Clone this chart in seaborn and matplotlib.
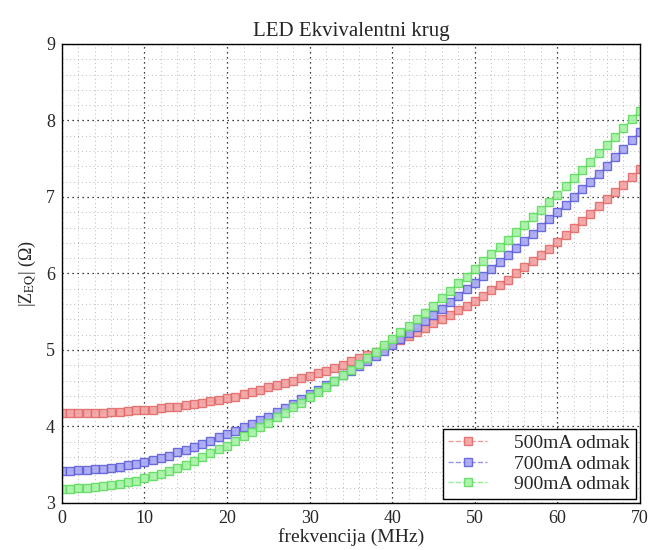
import numpy as np
import pandas as pd
import matplotlib
matplotlib.use("Agg")
import matplotlib.pyplot as plt
from matplotlib.ticker import MultipleLocator
import seaborn as sns

# Frequency sweep (MHz)
freq_mhz = list(range(0, 71))

# |Z_EQ| (Ohm) for each bias current
z_500ma = [4.17, 4.17, 4.17, 4.18, 4.18, 4.18, 4.19, 4.19, 4.20, 4.21,
           4.21, 4.22, 4.24, 4.25, 4.26, 4.28, 4.29, 4.31, 4.33, 4.35,
           4.37, 4.39, 4.42, 4.45, 4.48, 4.51, 4.54, 4.57, 4.60, 4.63,
           4.66, 4.70, 4.73, 4.77, 4.81, 4.85, 4.89, 4.94, 4.98, 5.03,
           5.08, 5.13, 5.18, 5.24, 5.29, 5.35, 5.41, 5.46, 5.52, 5.58,
           5.64, 5.71, 5.78, 5.85, 5.92, 6.00, 6.08, 6.16, 6.24, 6.32,
           6.41, 6.50, 6.59, 6.68, 6.78, 6.88, 6.97, 7.06, 7.16, 7.26,
           7.36]
z_700ma = [3.42, 3.42, 3.43, 3.43, 3.44, 3.45, 3.46, 3.47, 3.49, 3.51,
           3.53, 3.56, 3.59, 3.62, 3.66, 3.69, 3.73, 3.77, 3.81, 3.86,
           3.90, 3.94, 3.99, 4.03, 4.08, 4.13, 4.19, 4.24, 4.30, 4.36,
           4.42, 4.48, 4.54, 4.60, 4.67, 4.73, 4.79, 4.86, 4.92, 4.99,
           5.06, 5.14, 5.22, 5.30, 5.38, 5.46, 5.54, 5.63, 5.71, 5.80,
           5.88, 5.97, 6.06, 6.15, 6.24, 6.33, 6.42, 6.52, 6.61, 6.71,
           6.80, 6.90, 7.00, 7.10, 7.20, 7.30, 7.41, 7.52, 7.63, 7.74,
           7.85]
z_900ma = [3.18, 3.18, 3.19, 3.20, 3.21, 3.22, 3.23, 3.25, 3.27, 3.29,
           3.32, 3.35, 3.38, 3.42, 3.46, 3.50, 3.55, 3.60, 3.65, 3.70,
           3.75, 3.81, 3.87, 3.93, 3.99, 4.05, 4.12, 4.18, 4.25, 4.31,
           4.38, 4.45, 4.52, 4.59, 4.67, 4.74, 4.82, 4.90, 4.98, 5.06,
           5.14, 5.23, 5.31, 5.40, 5.49, 5.58, 5.68, 5.77, 5.87, 5.96,
           6.06, 6.16, 6.25, 6.35, 6.44, 6.54, 6.64, 6.74, 6.83, 6.93,
           7.03, 7.14, 7.25, 7.35, 7.46, 7.57, 7.68, 7.79, 7.90, 8.02,
           8.13]

series_labels = ["500mA odmak", "700mA odmak", "900mA odmak"]
x_ticks = [0, 10, 20, 30, 40, 50, 60, 70]
y_ticks = [3, 4, 5, 6, 7, 8, 9]

sns.set_theme(style="white")
plt.rcParams["font.family"] = ["Liberation Serif", "DejaVu Serif"]
plt.rcParams["mathtext.fontset"] = "stix"

fig = plt.figure(figsize=(6.51, 5.50), dpi=100)
ax = fig.add_axes([0.095, 0.0855, 0.888, 0.8345])

styles = [
    ("#f2a2a2", "#e36a6a", "#ef8f8f"),
    ("#a8a8f2", "#5f5fdc", "#8a8aec"),
    ("#a6f2a6", "#5fdc5f", "#88ec88"),
]
for vals, label, (face, edge, line) in zip([z_500ma, z_700ma, z_900ma], series_labels, styles):
    df = pd.DataFrame({"f": freq_mhz, "z": vals})
    sns.lineplot(data=df, x="f", y="z", ax=ax, label=label, color=line,
                 linestyle="--", linewidth=1.0, marker="s", markersize=5.5,
                 markerfacecolor=face, markeredgecolor=edge,
                 markeredgewidth=1.0, alpha=0.9)

ax.set_xlim(0, 70)
ax.set_ylim(3, 9)
ax.set_xticks(x_ticks)
ax.set_yticks(y_ticks)
ax.xaxis.set_minor_locator(MultipleLocator(2))
ax.yaxis.set_minor_locator(MultipleLocator(0.2))

ax.grid(which="major", color="black", linestyle=(0, (1, 3)), linewidth=0.9)
ax.grid(which="minor", color="#b8b8b8", linestyle=(0, (1, 3)), linewidth=0.7)
ax.set_axisbelow(True)

ax.tick_params(axis="both", which="major", direction="in", length=4,
               labelsize=13, color="black", pad=5)
ax.tick_params(axis="both", which="minor", length=0)
for side in ["left", "right", "top", "bottom"]:
    ax.spines[side].set_color("black")
    ax.spines[side].set_linewidth(1.0)

ax.set_title("LED Ekvivalentni krug", fontsize=15, pad=6)
ax.set_xlabel("frekvencija (MHz)", fontsize=14, labelpad=1)
ax.set_ylabel(r"|Z$_{\mathrm{EQ}}$| (Ω)", fontsize=13, labelpad=6)

leg = ax.legend(loc="lower right", fontsize=14, frameon=True, fancybox=False,
                edgecolor="black", framealpha=1.0, borderaxespad=0.2,
                handlelength=2.0, labelspacing=0.15, borderpad=0.3,
                handletextpad=1.4)
leg.get_frame().set_linewidth(1.0)

fig.savefig("out.png", dpi=100, facecolor="white")
